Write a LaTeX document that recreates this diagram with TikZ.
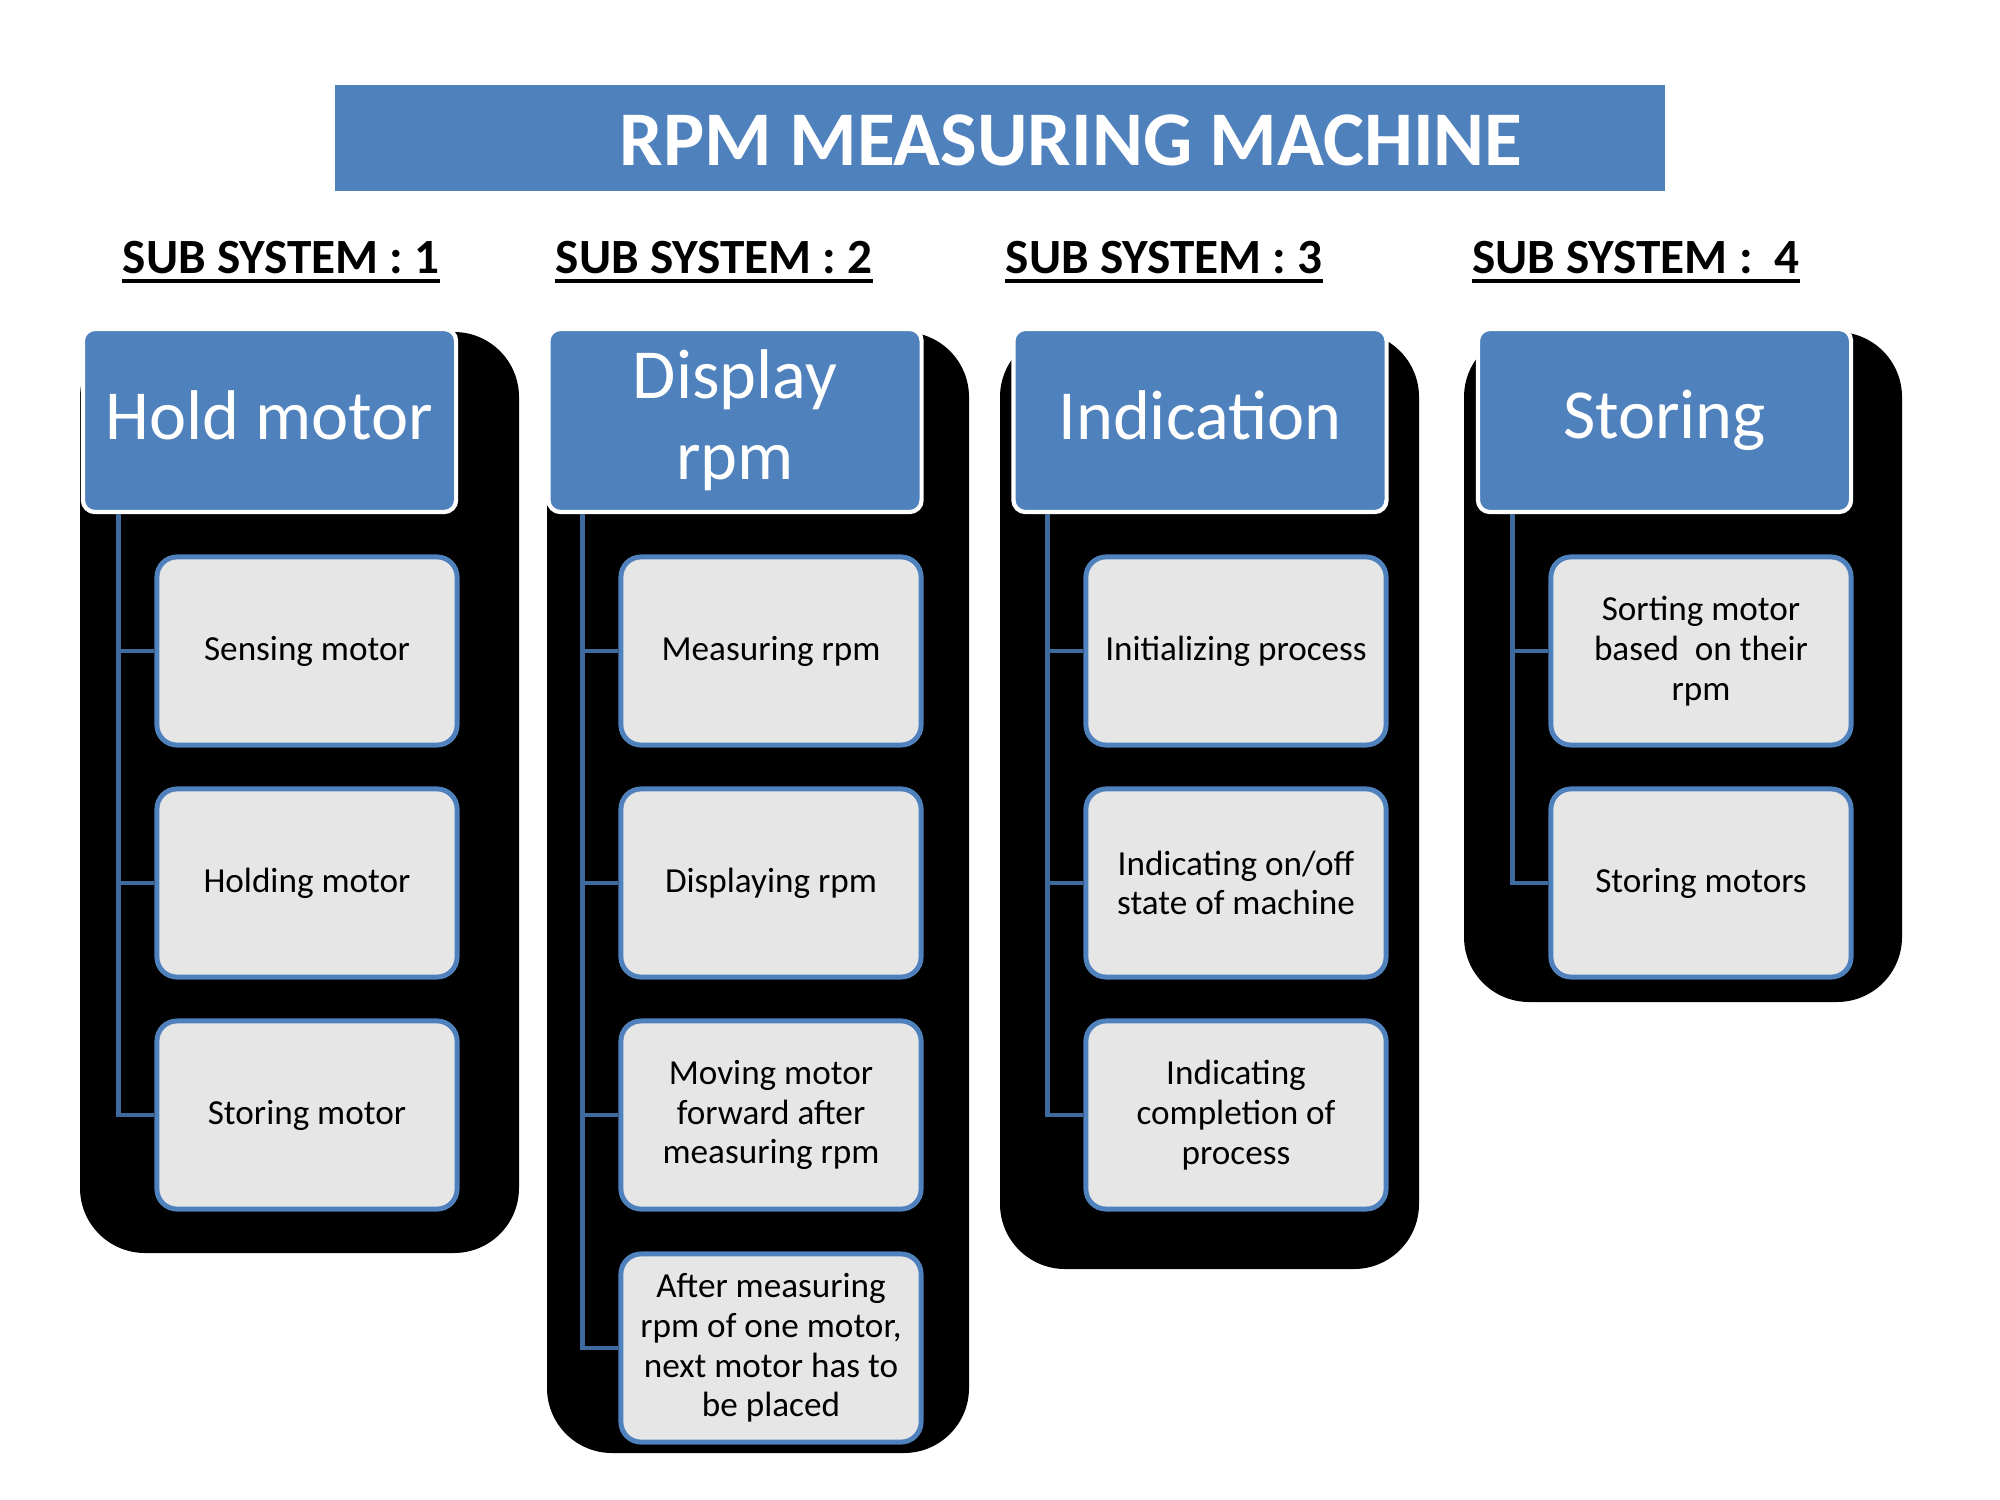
\documentclass[tikz,border=0pt]{standalone}
\usepackage{fontspec}
\setmainfont{Carlito}
\usepackage{tikz}

\definecolor{hdrblue}{HTML}{4F81BD}
\definecolor{boxgray}{HTML}{E6E6E6}
\definecolor{linkblue}{HTML}{3F6A9E}

\begin{document}
\begin{tikzpicture}[x=0.01cm, y=-0.01cm,
  backbox/.style={fill=black, rounded corners=0.65cm},
  headbox/.style={draw=white, line width=1.2pt, fill=hdrblue, rounded corners=0.12cm,
    text=white, align=center, minimum width=3.73cm, minimum height=1.83cm,
    inner sep=0pt, font=\fontsize{20}{23}\selectfont},
  taskbox/.style={draw=hdrblue, line width=1.4pt, fill=boxgray, rounded corners=0.2cm,
    align=center, minimum width=3cm, minimum height=1.88cm,
    inner sep=0pt, font=\fontsize{10}{11.3}\selectfont},
  subhead/.style={inner sep=0pt, anchor=base, font=\fontsize{14}{17}\selectfont\bfseries},
  link/.style={draw=linkblue, line width=1.4pt}]
  \useasboundingbox (0,0) rectangle (2000,1500);

  % 标题
  \node[fill=hdrblue, minimum width=13.3cm, minimum height=1.06cm, inner sep=0pt] (bar) at (1000,138) {};
  \node[text=white, inner sep=0pt, font=\fontsize{22}{26}\selectfont\bfseries] (title) at (1071,140) {RPM MEASURING MACHINE};

  % 子系统标题
  \node[subhead] (s1) at (281,274) {SUB SYSTEM : 1};
  \node[subhead] (s2) at (714,274) {SUB SYSTEM : 2};
  \node[subhead] (s3) at (1164,274) {SUB SYSTEM : 3};
  \node[subhead] (s4) at (1636,274) {SUB SYSTEM :~ 4};
  \draw[line width=1.2pt] ([yshift=-0.07cm]s1.base west) -- ([yshift=-0.07cm]s1.base east);
  \draw[line width=1.2pt] ([yshift=-0.07cm]s2.base west) -- ([yshift=-0.07cm]s2.base east);
  \draw[line width=1.2pt] ([yshift=-0.07cm]s3.base west) -- ([yshift=-0.07cm]s3.base east);
  \draw[line width=1.2pt] ([yshift=-0.07cm]s4.base west) -- ([yshift=-0.07cm]s4.base east);

  % 黑色背板
  \fill[backbox] (80,332) rectangle (519,1253);
  \fill[backbox] (547,332) rectangle (969,1453);
  \fill[backbox] (1000,332) rectangle (1419,1269);
  \fill[backbox] (1464,332) rectangle (1902,1002);

  % 子系统 1
  \node[headbox] (h1) at (269.5,420.5) {\raisebox{0.1cm}{Hold motor}};
  \node[taskbox] (c11) at (307,651) {Sensing motor};
  \node[taskbox] (c12) at (307,883) {Holding motor};
  \node[taskbox] (c13) at (307,1115) {Storing motor};
  \coordinate (v1) at ([xshift=0.38cm]h1.south west);
  \draw[link] (v1) |- (c13.west);
  \draw[link] (v1 |- c11.west) -- (c11.west);
  \draw[link] (v1 |- c12.west) -- (c12.west);

  % 子系统 2
  \node[headbox] (h2) at (735,420.5) {Display\\rpm};
  \node[taskbox] (c21) at (771,651) {Measuring rpm};
  \node[taskbox] (c22) at (771,883) {Displaying rpm};
  \node[taskbox] (c23) at (771,1115) {Moving motor\\forward after\\measuring rpm};
  \node[taskbox] (c24) at (771,1348) {After measuring\\rpm of one motor,\\next motor has to\\be placed};
  \coordinate (v2) at ([xshift=0.36cm]h2.south west);
  \draw[link] (v2) |- (c24.west);
  \draw[link] (v2 |- c21.west) -- (c21.west);
  \draw[link] (v2 |- c22.west) -- (c22.west);
  \draw[link] (v2 |- c23.west) -- (c23.west);

  % 子系统 3
  \node[headbox] (h3) at (1200,420.5) {\raisebox{0.1cm}{Indication}};
  \node[taskbox] (c31) at (1236,651) {Initializing process};
  \node[taskbox] (c32) at (1236,883) {Indicating on/off\\state of machine};
  \node[taskbox] (c33) at (1236,1115) {Indicating\\completion of\\process};
  \coordinate (v3) at ([xshift=0.36cm]h3.south west);
  \draw[link] (v3) |- (c33.west);
  \draw[link] (v3 |- c31.west) -- (c31.west);
  \draw[link] (v3 |- c32.west) -- (c32.west);

  % 子系统 4
  \node[headbox] (h4) at (1664.5,420.5) {Storing};
  \node[taskbox] (c41) at (1701,651) {Sorting motor\\based~ on their\\rpm};
  \node[taskbox] (c42) at (1701,883) {Storing motors};
  \coordinate (v4) at ([xshift=0.37cm]h4.south west);
  \draw[link] (v4) |- (c42.west);
  \draw[link] (v4 |- c41.west) -- (c41.west);
\end{tikzpicture}
\end{document}
